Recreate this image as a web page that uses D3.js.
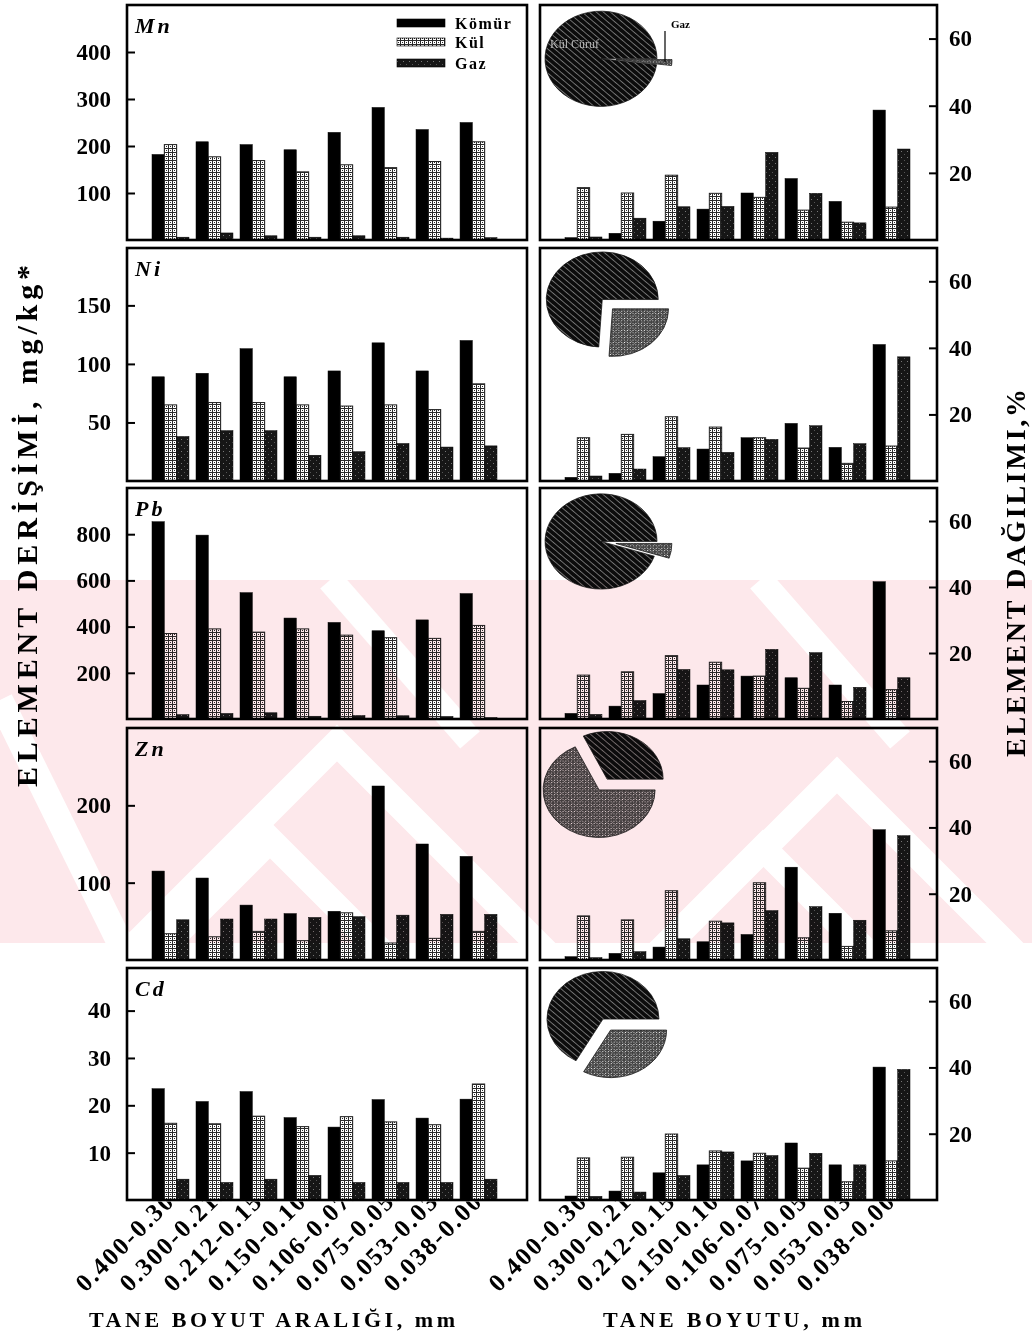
<!DOCTYPE html>
<html>
<head>
<meta charset="utf-8">
<script src="https://cdn.jsdelivr.net/npm/d3@7"></script>
<style>
  body { margin: 0; background: #fff; }
  svg text { font-family: "Liberation Serif", "Times New Roman", serif; font-weight: bold; fill: #000; }
</style>
</head>
<body>
<div id="chart"></div>
<script>
// ---- data ----
const sizeFractions = ["0.400-0.300", "0.300-0.212", "0.212-0.150", "0.150-0.106",
                       "0.106-0.075", "0.075-0.053", "0.053-0.038", "0.038-0.000"];
const seriesNames = ["Kömür", "Kül", "Gaz"];
const elements = ["Mn", "Ni", "Pb", "Zn", "Cd"];

// element concentration, mg/kg  [Kömür, Kül, Gaz]
const mnConc = [[182, 209, 203, 192, 229, 282, 235, 250],
                [203, 177, 169, 145, 160, 154, 167, 209],
                [6, 15, 9, 6, 9, 6, 4, 5]];
const niConc = [[89, 92, 113, 89, 94, 118, 94, 120],
                [65, 67, 67, 65, 64, 65, 61, 83],
                [38, 43, 43, 22, 25, 32, 29, 30]];
const pbConc = [[854, 796, 547, 437, 418, 382, 429, 543],
                [370, 390, 376, 390, 363, 352, 349, 405],
                [19, 24, 27, 12, 15, 14, 11, 6]];
const znConc = [[115, 106, 71, 60, 63, 225, 150, 134],
                [34, 30, 37, 25, 61, 22, 28, 37],
                [52, 53, 53, 55, 56, 58, 59, 59]];
const cdConc = [[23.5, 20.8, 22.9, 17.4, 15.4, 21.2, 17.3, 21.3],
                [16.2, 16.1, 17.7, 15.5, 17.6, 16.5, 15.9, 24.5],
                [4.4, 3.7, 4.4, 5.2, 3.7, 3.7, 3.7, 4.4]];

// element distribution, %  [Kömür, Kül, Gaz]
const mnDist = [[0.7, 2, 5.6, 9.2, 14, 18.3, 11.5, 38.7],
                [15.6, 14, 19.3, 13.9, 12.7, 8.9, 5.3, 9.8],
                [0.9, 6.5, 9.9, 10, 26.1, 13.9, 5.1, 27.1]];
const niDist = [[1.1, 2.3, 7.3, 9.6, 13, 17.3, 10.1, 41],
                [13, 14, 19.3, 16.2, 13, 9.9, 5.3, 10.5],
                [1.5, 3.6, 10, 8.6, 12.5, 16.6, 11.2, 37.3]];
const pbDist = [[1.7, 3.9, 7.7, 10.3, 13, 12.5, 10.3, 41.6],
                [13.3, 14.3, 19.2, 17.2, 13, 9.3, 5.3, 8.9],
                [1.4, 5.6, 15, 14.9, 21.1, 20.1, 9.6, 12.5]];
const znDist = [[1, 2, 3.9, 5.5, 7.7, 28, 14.1, 39.3],
                [13.3, 12.1, 20.9, 11.7, 23.3, 6.7, 4.1, 8.8],
                [0.7, 2.5, 6.4, 11.2, 14.9, 16.1, 12, 37.5]];
const cdDist = [[1.2, 2.7, 8.2, 10.6, 11.8, 17.2, 10.6, 40.1],
                [12.7, 12.9, 19.9, 14.8, 14.1, 9.6, 5.5, 11.8],
                [1.1, 2.4, 7.4, 14.5, 13.4, 14.1, 10.6, 39.4]];

// share of the element leaving as gas in the pie (rest: ash + slag)
const pieGas = [2, 26, 5, 68, 33];

const concMax = [500, 199, 1000, 300, 49];
const concTicks = [[100, 200, 300, 400], [50, 100, 150], [200, 400, 600, 800], [100, 200], [10, 20, 30, 40]];
const distMax = 70;
const distTicks = [20, 40, 60];

const concData = [mnConc, niConc, pbConc, znConc, cdConc];
const distData = [mnDist, niDist, pbDist, znDist, cdDist];

// ---- layout ----
const W = 1032, H = 1337;
const leftX = [127, 527], rightX = [540, 937];
const rowTop = [5, 248, 488, 728, 968];
const rowBottom = [240, 481, 719, 960, 1200];

const svg = d3.select("#chart").append("svg")
    .attr("width", W).attr("height", H);
const defs = svg.append("defs");

// fills
const kulPat = defs.append("pattern").attr("id", "kulFill")
    .attr("patternUnits", "userSpaceOnUse").attr("width", 4).attr("height", 4);
kulPat.append("rect").attr("width", 4).attr("height", 4).attr("fill", "#fff");
kulPat.append("path").attr("d", "M0,0.5H4M0.5,0V4M2,2.5h1")
    .attr("stroke", "#2a2a2a").attr("stroke-width", 1);

const gazPat = defs.append("pattern").attr("id", "gazFill")
    .attr("patternUnits", "userSpaceOnUse").attr("width", 6).attr("height", 6);
gazPat.append("rect").attr("width", 6).attr("height", 6).attr("fill", "#161616");
gazPat.append("rect").attr("x", 1).attr("y", 1).attr("width", 1).attr("height", 1).attr("fill", "#777");
gazPat.append("rect").attr("x", 4).attr("y", 4).attr("width", 1).attr("height", 1).attr("fill", "#555");

const hatchPat = defs.append("pattern").attr("id", "pieDark")
    .attr("patternUnits", "userSpaceOnUse").attr("width", 5).attr("height", 5)
    .attr("patternTransform", "rotate(-45)");
hatchPat.append("rect").attr("width", 5).attr("height", 5).attr("fill", "#0c0c0c");
hatchPat.append("line").attr("x1", 0).attr("y1", 0).attr("x2", 0).attr("y2", 5)
    .attr("stroke", "#ddd").attr("stroke-width", 1);

const pieLightPat = defs.append("pattern").attr("id", "pieLight")
    .attr("patternUnits", "userSpaceOnUse").attr("width", 4).attr("height", 4)
    .attr("patternTransform", "rotate(-45)");
pieLightPat.append("rect").attr("width", 4).attr("height", 4).attr("fill", "#444");
pieLightPat.append("rect").attr("x", 0).attr("y", 0).attr("width", 1).attr("height", 1).attr("fill", "#fff");
pieLightPat.append("rect").attr("x", 2).attr("y", 2).attr("width", 1).attr("height", 1).attr("fill", "#ddd");
pieLightPat.append("rect").attr("x", 2).attr("y", 0).attr("width", 1).attr("height", 1).attr("fill", "#999");

const seriesFill = ["#000", "url(#kulFill)", "url(#gazFill)"];
const seriesStroke = ["#000", "#222", "#000"];

// clip for the tick labels under the bottom row
defs.append("clipPath").attr("id", "belowBottom")
    .append("rect").attr("x", 0).attr("y", rowBottom[4] + 1.5).attr("width", W).attr("height", H);

function drawPanel(x0, x1, top, bottom, series, yMax, ticks, side) {
    const g = svg.append("g");
    const x = d3.scaleBand().domain(sizeFractions)
        .range([x0 + 25, x0 + 370]).paddingInner(0.16).paddingOuter(0);
    const xs = d3.scaleBand().domain(d3.range(3)).range([0, x.bandwidth()]);
    const y = d3.scaleLinear().domain([0, yMax]).range([bottom, top]);

    series.forEach((vals, si) => {
        g.append("g").selectAll("rect")
            .data(vals)
            .join("rect")
            .attr("x", (d, i) => x(sizeFractions[i]) + xs(si))
            .attr("y", d => y(d))
            .attr("width", xs.bandwidth())
            .attr("height", d => bottom - y(d))
            .attr("fill", seriesFill[si])
            .attr("stroke", seriesStroke[si])
            .attr("stroke-width", si === 1 ? 1 : 0.5);
    });

    const axis = side === "left"
        ? d3.axisLeft(y).tickValues(ticks).tickSize(-8).tickPadding(16)
        : d3.axisRight(y).tickValues(ticks).tickSize(-8).tickPadding(12);
    const ax = g.append("g")
        .attr("transform", `translate(${side === "left" ? x0 : x1},0)`)
        .call(axis);
    ax.select(".domain").remove();
    ax.selectAll(".tick line").attr("stroke", "#000").attr("stroke-width", 2);
    ax.selectAll(".tick text").style("font-size", "23px").attr("fill", "#000");

    g.append("rect")
        .attr("x", x0).attr("y", top)
        .attr("width", x1 - x0).attr("height", bottom - top)
        .attr("fill", "none").attr("stroke", "#000").attr("stroke-width", 2.6);
    return x;
}

// panels
let lastLeftX, lastRightX;
elements.forEach((el, r) => {
    lastLeftX = drawPanel(leftX[0], leftX[1], rowTop[r], rowBottom[r], concData[r], concMax[r], concTicks[r], "left");
    lastRightX = drawPanel(rightX[0], rightX[1], rowTop[r], rowBottom[r], distData[r], distMax, distTicks, "right");

    svg.append("text")
        .attr("x", leftX[0] + 8).attr("y", rowTop[r] + 28)
        .style("font-size", "22px").style("font-style", "italic").style("letter-spacing", "3px")
        .text(el);

    // pie of the element split: gas slice pulled out, ash/slag slice nudged back
    const cx = rightX[0] + 65, cy = rowTop[r] + 54;
    const pie = d3.pie().sort(null).startAngle(Math.PI / 2).endAngle(Math.PI / 2 + 2 * Math.PI);
    const arc = d3.arc().innerRadius(0).outerRadius(56);
    const slices = pie([pieGas[r], 100 - pieGas[r]]);
    const pg = svg.append("g").attr("transform", `translate(${cx},${cy}) scale(1,0.85)`);
    pg.selectAll("path")
        .data(slices)
        .join("path")
        .attr("d", arc)
        .attr("transform", (d, i) => {
            const off = i === 0 ? 11 : 4;
            const a = (d.startAngle + d.endAngle) / 2;
            return `translate(${Math.sin(a) * off},${-Math.cos(a) * off})`;
        })
        .attr("fill", (d, i) => i === 0 ? "url(#pieLight)" : "url(#pieDark)")
        .attr("stroke", "#111").attr("stroke-width", 0.8);
});

// pie notes in the first panel
svg.append("text").attr("x", rightX[0] + 10).attr("y", 48)
    .style("font-size", "12px").style("font-weight", "normal")
    .style("fill", "#bbb").text("Kül Cüruf");
svg.append("line").attr("x1", 665).attr("y1", 31).attr("x2", 665).attr("y2", 62)
    .attr("stroke", "#000").attr("stroke-width", 1.2);
svg.append("text").attr("x", 671).attr("y", 28)
    .style("font-size", "11px").text("Gaz");

// legend (first left panel)
const legend = svg.append("g");
seriesNames.forEach((s, i) => {
    const ly = [23, 42, 63][i];
    legend.append("rect").attr("x", 397).attr("y", ly - 4).attr("width", 48).attr("height", 8)
        .attr("fill", seriesFill[i]).attr("stroke", "#000").attr("stroke-width", 0.6);
    legend.append("text").attr("x", 455).attr("y", ly + 6)
        .style("font-size", "16px").style("letter-spacing", "1.5px").text(s);
});

// rotated size-fraction labels under both bottom panels
[[leftX, lastLeftX], [rightX, lastRightX]].forEach(([xr, xsc]) => {
    svg.append("g").attr("clip-path", "url(#belowBottom)")
        .selectAll("text")
        .data(sizeFractions)
        .join("text")
        .attr("text-anchor", "end")
        .attr("transform", d => `translate(${xsc(d) + xsc.bandwidth() / 2 + 16},${rowBottom[4] - 8}) rotate(-45)`)
        .style("font-size", "25px").style("letter-spacing", "2px")
        .text(d => d);
});

// axis titles
svg.append("text").attr("x", 89).attr("y", 1327)
    .attr("textLength", 366).attr("lengthAdjust", "spacing")
    .style("font-size", "22px").text("TANE BOYUT ARALIĞI, mm");
svg.append("text").attr("x", 603).attr("y", 1327)
    .attr("textLength", 259).attr("lengthAdjust", "spacing")
    .style("font-size", "22px").text("TANE BOYUTU, mm");
svg.append("text").attr("transform", "translate(37,787) rotate(-90)")
    .attr("textLength", 522).attr("lengthAdjust", "spacing")
    .style("font-size", "30px").text("ELEMENT DERİŞİMİ, mg/kg*");
svg.append("text").attr("transform", "translate(1025,757) rotate(-90)")
    .attr("textLength", 368).attr("lengthAdjust", "spacing")
    .style("font-size", "28px").text("ELEMENT DAĞILIMI,%");

// faint pink watermark band
const wm = svg.append("g").style("mix-blend-mode", "multiply");
defs.append("clipPath").attr("id", "wmClip")
    .append("rect").attr("x", 0).attr("y", 580).attr("width", W).attr("height", 363);
const wg = wm.append("g").attr("clip-path", "url(#wmClip)");
wg.append("rect").attr("x", 0).attr("y", 580).attr("width", W).attr("height", 363).attr("fill", "#fde8eb");
[[330, 580, 470, 740], [760, 580, 900, 740], [0, 700, 120, 943]].forEach(s => {
    wg.append("line").attr("x1", s[0]).attr("y1", s[1]).attr("x2", s[2]).attr("y2", s[3])
        .attr("stroke", "#fff").attr("stroke-width", 26);
});
[[837, 775], [763, 848], [337, 743], [270, 840]].forEach(p => {
    wg.append("path")
        .attr("d", `M${p[0] - 220},${p[1] + 220}L${p[0]},${p[1]}L${p[0] + 220},${p[1] + 220}`)
        .attr("fill", "none").attr("stroke", "#fff").attr("stroke-width", 26);
});
</script>
</body>
</html>
